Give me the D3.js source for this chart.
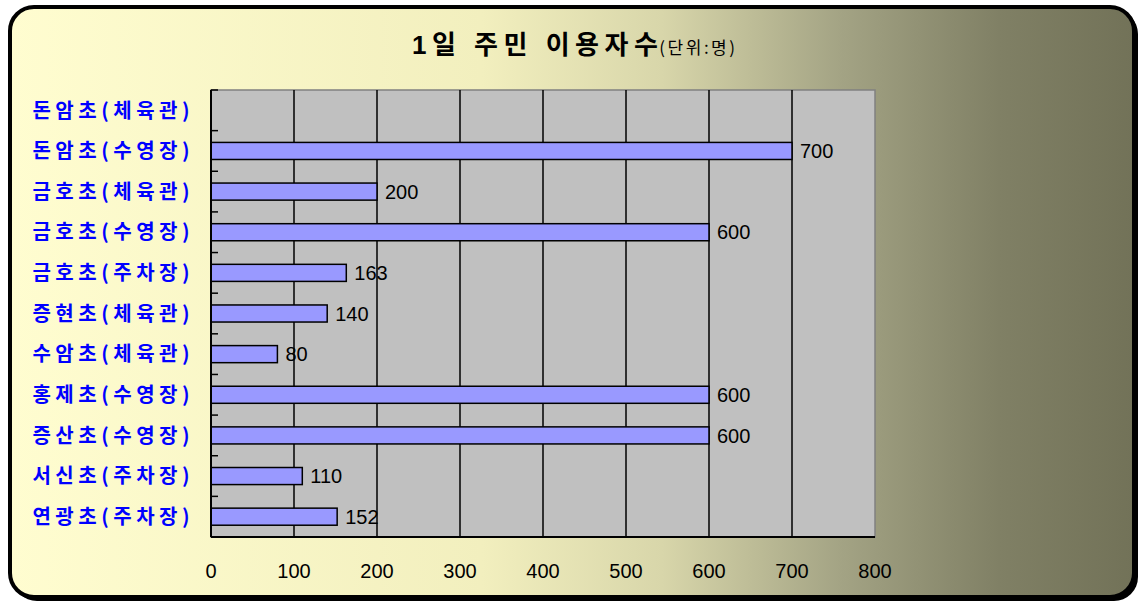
<!DOCTYPE html>
<html>
<head>
<meta charset="utf-8">
<script src="https://cdn.jsdelivr.net/npm/d3@7"></script>
<style>
  html, body { margin: 0; padding: 0; background: #ffffff; }
  svg { display: block; }
</style>
</head>
<body>
<svg id="chart" width="1141" height="605"></svg>
<script>
// ---- data ----
const categories = ["돈암초(체육관)", "돈암초(수영장)", "금호초(체육관)", "금호초(수영장)", "금호초(주차장)", "증현초(체육관)", "수암초(체육관)", "홍제초(수영장)", "증산초(수영장)", "서신초(주차장)", "연광초(주차장)"];
const values = [null, 700, 200, 600, 163, 140, 80, 600, 600, 110, 152];
const xTicks = [0, 100, 200, 300, 400, 500, 600, 700, 800];
const titleMain = "1일 주민 이용자수";
const titleUnit = "(단위:명)";

const svg = d3.select("#chart");
const latin = "'Liberation Sans', Arial, 'Noto Sans CJK KR', sans-serif";
const korean = "'Noto Sans CJK KR', 'Liberation Sans', sans-serif";

// background gradient
const defs = svg.append("defs");
const grad = defs.append("linearGradient").attr("id", "bg").attr("x1", "0%").attr("x2", "100%").attr("y1", "0%").attr("y2", "0%");
grad.append("stop").attr("offset", "0%").attr("stop-color", "#fffdd0");
grad.append("stop").attr("offset", "42%").attr("stop-color", "#f2efbe");
grad.append("stop").attr("offset", "58%").attr("stop-color", "#d8d6aa");
grad.append("stop").attr("offset", "74%").attr("stop-color", "#a3a384");
grad.append("stop").attr("offset", "88%").attr("stop-color", "#808065");
grad.append("stop").attr("offset", "100%").attr("stop-color", "#727258");

// shadow + frame
svg.append("rect").attr("x", 13).attr("y", 10).attr("width", 1125).attr("height", 591)
  .attr("rx", 24).attr("fill", "#000");
svg.append("rect").attr("x", 10).attr("y", 7).attr("width", 1124).attr("height", 590)
  .attr("rx", 24).attr("fill", "url(#bg)").attr("stroke", "#000").attr("stroke-width", 4);

// scales
const x = d3.scaleLinear().domain([0, 800]).range([211, 875]);
const y = d3.scaleBand().domain(categories).range([90, 537]).paddingInner(0.58).paddingOuter(0.29);
const yTop = 90, yBot = 537;

// plot area
svg.append("rect").attr("x", x(0)).attr("y", yTop).attr("width", x(800) - x(0)).attr("height", yBot - yTop)
  .attr("fill", "#c0c0c0").attr("stroke", "#808080").attr("stroke-width", 1.5);

// grid lines
svg.append("g").selectAll("line").data(xTicks.filter(d => d > 0 && d < 800)).join("line")
  .attr("x1", d => x(d)).attr("x2", d => x(d)).attr("y1", yTop).attr("y2", yBot)
  .attr("stroke", "#000").attr("stroke-width", 1.5);

// bars
const barData = categories.map((c, i) => ({c, v: values[i]})).filter(d => d.v != null);
svg.append("g").selectAll("rect").data(barData).join("rect")
  .attr("x", x(0)).attr("y", d => y(d.c)).attr("width", d => x(d.v) - x(0)).attr("height", y.bandwidth())
  .attr("fill", "#9999ff").attr("stroke", "#000").attr("stroke-width", 1.5);

// value labels
svg.append("g").selectAll("text").data(barData).join("text")
  .attr("x", d => x(d.v) + 8).attr("y", d => y(d.c) + y.bandwidth() / 2)
  .attr("dy", "0.36em").attr("font-family", latin).attr("font-size", 20).attr("fill", "#000")
  .text(d => d.v);

// y axis (ticks inward at band boundaries)
const boundaries = categories.map(c => y(c) - y.step() * y.paddingInner() / 2).concat([yBot]);
svg.append("g").selectAll("line").data(boundaries).join("line")
  .attr("x1", x(0)).attr("x2", x(0) + 7).attr("y1", d => d).attr("y2", d => d)
  .attr("stroke", "#000").attr("stroke-width", 1.5);
svg.append("line").attr("x1", x(0)).attr("x2", x(0)).attr("y1", yTop).attr("y2", yBot)
  .attr("stroke", "#000").attr("stroke-width", 2);
svg.append("line").attr("x1", x(0)).attr("x2", x(800)).attr("y1", yBot).attr("y2", yBot)
  .attr("stroke", "#000").attr("stroke-width", 2);

// category labels
svg.append("g").selectAll("text").data(categories).join("text")
  .attr("x", 194).attr("y", d => y(d) + y.bandwidth() / 2)
  .attr("dy", "0.36em").attr("text-anchor", "end")
  .attr("font-family", korean).attr("font-size", 20).attr("font-weight", "bold")
  .attr("letter-spacing", "4.5px").attr("fill", "#0000ff")
  .text(d => d);

// x tick labels
svg.append("g").selectAll("text").data(xTicks).join("text")
  .attr("x", d => x(d)).attr("y", 571).attr("dy", "0.36em").attr("text-anchor", "middle")
  .attr("font-family", latin).attr("font-size", 20).attr("fill", "#000")
  .text(d => d);

// title
const t = svg.append("text").attr("x", 412).attr("y", 54).attr("fill", "#000");
t.append("tspan").attr("font-family", latin).attr("font-size", 26).attr("font-weight", "bold")
  .attr("letter-spacing", "5.5px").text(titleMain);
t.append("tspan").attr("font-family", korean).attr("font-size", 17).attr("letter-spacing", "2.5px")
  .attr("dx", -4).text(titleUnit);
</script>
</body>
</html>
